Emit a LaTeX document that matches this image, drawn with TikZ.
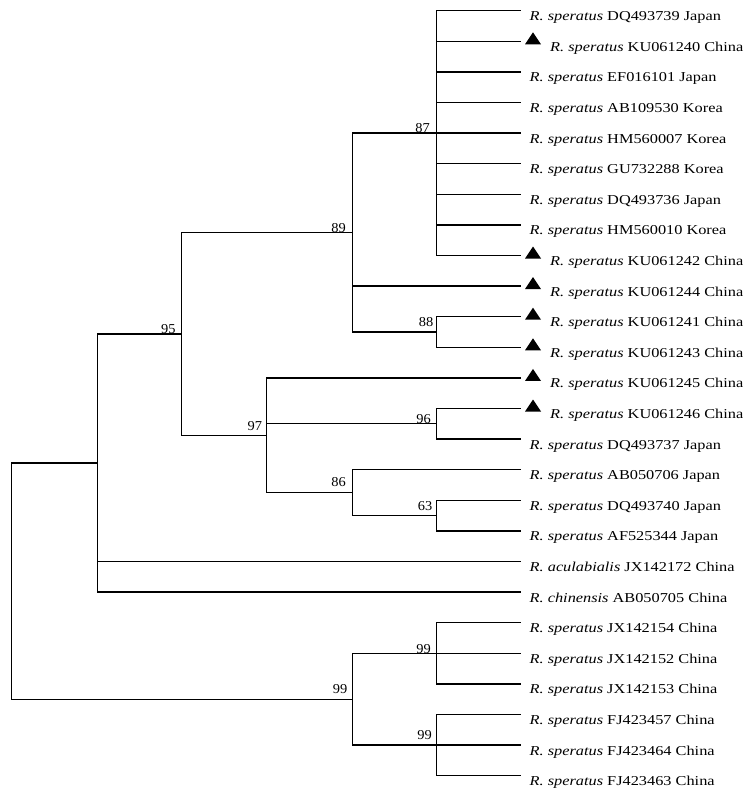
\documentclass[tikz,border=0pt]{standalone}
\usepackage{fontspec}
\setmainfont{Liberation Serif}
\usepackage{graphicx}
\begin{document}
\begin{tikzpicture}[x=1pt,y=-1pt,
  branch/.style={draw=black,line width=1.25pt},
  leaflab/.style={anchor=base west,inner sep=0pt,font=\fontsize{13.6}{16}\selectfont},
  support/.style={inner sep=0pt,font=\fontsize{13.6}{16}\selectfont},
  marker/.style={fill=black}]
\fill[white] (0,0) rectangle (750,794);
\useasboundingbox (0,0) rectangle (750,794);
% leaves
\foreach \i/\y/\sp/\rest/\t in {
 1/10.7/speratus/DQ493739 Japan/0,
 2/41.3/speratus/KU061240 China/1,
 3/71.9/speratus/EF016101 Japan/0,
 4/102.5/speratus/AB109530 Korea/0,
 5/133.1/speratus/HM560007 Korea/0,
 6/163.7/speratus/GU732288 Korea/0,
 7/194.3/speratus/DQ493736 Japan/0,
 8/224.9/speratus/HM560010 Korea/0,
 9/255.5/speratus/KU061242 China/1,
 10/286.1/speratus/KU061244 China/1,
 11/316.7/speratus/KU061241 China/1,
 12/347.3/speratus/KU061243 China/1,
 13/377.9/speratus/KU061245 China/1,
 14/408.5/speratus/KU061246 China/1,
 15/439.1/speratus/DQ493737 Japan/0,
 16/469.7/speratus/AB050706 Japan/0,
 17/500.3/speratus/DQ493740 Japan/0,
 18/530.9/speratus/AF525344 Japan/0,
 19/561.5/aculabialis/JX142172 China/0,
 20/592.1/chinensis/AB050705 China/0,
 21/622.7/speratus/JX142154 China/0,
 22/653.3/speratus/JX142152 China/0,
 23/683.9/speratus/JX142153 China/0,
 24/714.5/speratus/FJ423457 China/0,
 25/745.1/speratus/FJ423464 China/0,
 26/775.7/speratus/FJ423463 China/0}{
  \coordinate (l\i) at (520.7,\y);
  \ifnum\t=1
    \fill[marker] (525,\y+3) -- (533,\y-9) -- (541,\y+3) -- cycle;
    \node[leaflab] (t\i) at (550,\y+10) {\scalebox{1.2}[1]{\textit{R. \sp} \rest}};
  \else
    \node[leaflab] (t\i) at (529.5,\y+10) {\scalebox{1.2}[1]{\textit{R. \sp} \rest}};
  \fi
}
% internal nodes
\coordinate (n87) at (436.5,133.1);
\coordinate (n88) at (436.5,332.0);
\coordinate (n89) at (352.4,232.55);
\coordinate (n96) at (436.5,423.8);
\coordinate (n63) at (436.5,515.6);
\coordinate (n86) at (352.4,492.65);
\coordinate (n97) at (266.8,435.3);
\coordinate (n95) at (181.7,333.9);
\coordinate (nA) at (97.6,463.0);
\coordinate (n99b) at (436.5,653.3);
\coordinate (n99c) at (436.5,745.1);
\coordinate (n99a) at (352.4,699.2);
\coordinate (root) at (11.5,581.1);
% branches
\foreach \i in {1,...,9} \draw[branch] (n87) |- (l\i);
\draw[branch] (n88) |- (l11);
\draw[branch] (n88) |- (l12);
\draw[branch] (n89) |- (n87);
\draw[branch] (n89) |- (l10);
\draw[branch] (n89) |- (n88);
\draw[branch] (n96) |- (l14);
\draw[branch] (n96) |- (l15);
\draw[branch] (n63) |- (l17);
\draw[branch] (n63) |- (l18);
\draw[branch] (n86) |- (l16);
\draw[branch] (n86) |- (n63);
\draw[branch] (n97) |- (l13);
\draw[branch] (n97) |- (n96);
\draw[branch] (n97) |- (n86);
\draw[branch] (n95) |- (n89);
\draw[branch] (n95) |- (n97);
\draw[branch] (nA) |- (n95);
\draw[branch] (nA) |- (l19);
\draw[branch] (nA) |- (l20);
\draw[branch] (n99b) |- (l21);
\draw[branch] (n99b) |- (l22);
\draw[branch] (n99b) |- (l23);
\draw[branch] (n99c) |- (l24);
\draw[branch] (n99c) |- (l25);
\draw[branch] (n99c) |- (l26);
\draw[branch] (n99a) |- (n99b);
\draw[branch] (n99a) |- (n99c);
\draw[branch] (root) |- (nA);
\draw[branch] (root) |- (n99a);
% support values
\node[support] (s87) at (422.6,128) {\scalebox{1.06}[1]{87}};
\node[support] (s89) at (338.5,228.2) {\scalebox{1.06}[1]{89}};
\node[support] (s95) at (168.3,329.2) {\scalebox{1.06}[1]{95}};
\node[support] (s88) at (426,322.5) {\scalebox{1.06}[1]{88}};
\node[support] (s97) at (254.8,425.8) {\scalebox{1.06}[1]{97}};
\node[support] (s96) at (423.6,419.5) {\scalebox{1.06}[1]{96}};
\node[support] (s86) at (338.5,481.7) {\scalebox{1.06}[1]{86}};
\node[support] (s63) at (425,505.7) {\scalebox{1.06}[1]{63}};
\node[support] (s99b) at (423.6,648.7) {\scalebox{1.06}[1]{99}};
\node[support] (s99a) at (340,689) {\scalebox{1.06}[1]{99}};
\node[support] (s99c) at (424.5,735.3) {\scalebox{1.06}[1]{99}};
\end{tikzpicture}
\end{document}
